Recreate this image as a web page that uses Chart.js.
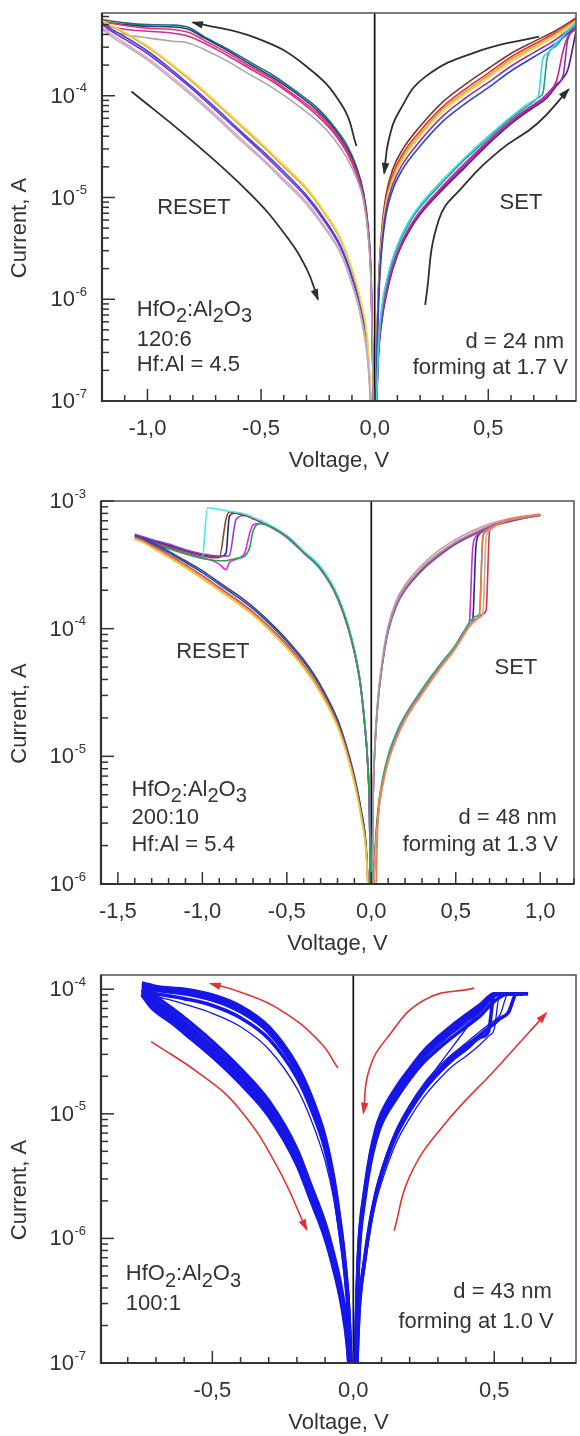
<!DOCTYPE html>
<html><head><meta charset="utf-8">
<script src="https://cdn.jsdelivr.net/npm/chart.js@4.4.1/dist/chart.umd.min.js"></script>
<style>
html,body{margin:0;padding:0;background:#fff;}
#wrap{position:relative;width:580px;height:1436px;overflow:hidden;background:#fff;}
canvas{position:absolute;left:0;}
</style></head><body>
<div id="wrap">
<canvas id="c1" width="580" height="480" style="top:0px"></canvas>
<canvas id="c2" width="580" height="480" style="top:480px"></canvas>
<canvas id="c3" width="580" height="476" style="top:960px"></canvas>
</div>
<script>
// ===================== PANEL 1 : HfO2:Al2O3 120:6 =====================
const p1XTicks = [-1.0, -0.5, 0.0, 0.5];
const p1XTickLabels = ['-1,0', '-0,5', '0,0', '0,5'];
const p1YDecades = [-7, -6, -5, -4];
const p1XRange = [-1.2, 0.886];
const p1YRange = [1e-7, 6.5e-4];

const p1ResetHighV = [-1.2, -1.1, -1.0, -0.9, -0.82, -0.75, -0.65, -0.55, -0.45, -0.35, -0.25, -0.18, -0.12, -0.08, -0.05, -0.03, -0.015, -0.005];
const p1ResetHighGreen   = [5.6e-4, 5.2e-4, 5.0e-4, 4.95e-4, 4.7e-4, 3.8e-4, 2.9e-4, 2.15e-4, 1.6e-4, 1.12e-4, 7.5e-5, 5.0e-5, 3.2e-5, 2.0e-5, 1.15e-5, 5.5e-6, 1.5e-6, 8e-8];
const p1ResetHighBlue    = [5.3e-4, 5.0e-4, 4.8e-4, 4.75e-4, 4.5e-4, 3.7e-4, 2.8e-4, 2.05e-4, 1.52e-4, 1.07e-4, 7.1e-5, 4.8e-5, 3.0e-5, 1.9e-5, 1.1e-5, 5.2e-6, 1.4e-6, 8e-8];
const p1ResetHighRed     = [5.4e-4, 4.9e-4, 4.6e-4, 4.5e-4, 4.2e-4, 3.5e-4, 2.65e-4, 1.95e-4, 1.45e-4, 1.0e-4, 6.7e-5, 4.5e-5, 2.85e-5, 1.8e-5, 1.05e-5, 5.0e-6, 1.35e-6, 8e-8];
const p1ResetHighMagenta = [5.0e-4, 4.5e-4, 4.3e-4, 4.15e-4, 3.85e-4, 3.3e-4, 2.5e-4, 1.85e-4, 1.38e-4, 9.6e-5, 6.3e-5, 4.3e-5, 2.7e-5, 1.7e-5, 1.0e-5, 4.8e-6, 1.3e-6, 8e-8];
const p1ResetHighGray    = [4.6e-4, 4.0e-4, 3.7e-4, 3.45e-4, 3.3e-4, 2.85e-4, 2.2e-4, 1.62e-4, 1.2e-4, 8.4e-5, 5.6e-5, 3.8e-5, 2.4e-5, 1.55e-5, 9.5e-6, 4.5e-6, 1.2e-6, 8e-8];

const p1ResetLowV = [-1.2, -1.15, -1.1, -1.0, -0.9, -0.8, -0.7, -0.6, -0.5, -0.4, -0.3, -0.22, -0.15, -0.1, -0.06, -0.03, -0.01];
const p1ResetLowYellow = [5.5e-4, 4.8e-4, 4.2e-4, 3.1e-4, 2.1e-4, 1.4e-4, 8.8e-5, 5.5e-5, 3.45e-5, 2.1e-5, 1.25e-5, 7.2e-6, 4.0e-6, 2.0e-6, 9.5e-7, 3.6e-7, 5e-8];
const p1ResetLowOrange = [5.4e-4, 4.7e-4, 4.1e-4, 3.0e-4, 2.05e-4, 1.35e-4, 8.5e-5, 5.3e-5, 3.3e-5, 2.0e-5, 1.2e-5, 6.9e-6, 3.8e-6, 1.9e-6, 9e-7, 3.4e-7, 5e-8];
const p1ResetLowBlue   = [5.2e-4, 4.4e-4, 3.8e-4, 2.75e-4, 1.85e-4, 1.2e-4, 7.6e-5, 4.7e-5, 2.95e-5, 1.8e-5, 1.05e-5, 6.1e-6, 3.35e-6, 1.7e-6, 8e-7, 3e-7, 5e-8];
const p1ResetLowPurple = [5.0e-4, 4.2e-4, 3.6e-4, 2.6e-4, 1.75e-4, 1.15e-4, 7.2e-5, 4.5e-5, 2.8e-5, 1.7e-5, 1.0e-5, 5.8e-6, 3.2e-6, 1.6e-6, 7.5e-7, 2.8e-7, 5e-8];
const p1ResetLowPink   = [4.7e-4, 3.9e-4, 3.3e-4, 2.35e-4, 1.58e-4, 1.03e-4, 6.5e-5, 4.0e-5, 2.5e-5, 1.52e-5, 9e-6, 5.2e-6, 2.9e-6, 1.45e-6, 6.8e-7, 2.5e-7, 5e-8];
const p1ResetLowGray   = [4.5e-4, 3.7e-4, 3.15e-4, 2.25e-4, 1.5e-4, 9.8e-5, 6.2e-5, 3.8e-5, 2.4e-5, 1.45e-5, 8.6e-6, 5e-6, 2.8e-6, 1.4e-6, 6.5e-7, 2.4e-7, 5e-8];

const p1SetLowV = [0.005, 0.015, 0.03, 0.06, 0.1, 0.15, 0.2, 0.3, 0.4, 0.5, 0.6, 0.7, 0.72, 0.74, 0.76, 0.8, 0.83, 0.85, 0.886];
const p1SetLowCyan    = [5e-8, 3e-7, 8e-7, 1.8e-6, 3.4e-6, 5.8e-6, 8.5e-6, 1.5e-5, 2.5e-5, 4.0e-5, 6.2e-5, 9.0e-5, 9.8e-5, 2.3e-4, 2.6e-4, 3.3e-4, 3.9e-4, 4.4e-4, 5.2e-4];
const p1SetLowTeal    = [5e-8, 2.8e-7, 7.5e-7, 1.7e-6, 3.2e-6, 5.5e-6, 8e-6, 1.42e-5, 2.4e-5, 3.8e-5, 6e-5, 8.8e-5, 9.6e-5, 1.05e-4, 2.4e-4, 3.1e-4, 3.8e-4, 4.3e-4, 5.1e-4];
const p1SetLowMagenta = [5e-8, 2.6e-7, 6.3e-7, 1.5e-6, 2.9e-6, 5e-6, 7.3e-6, 1.3e-5, 2.2e-5, 3.6e-5, 5.7e-5, 8.2e-5, 8.8e-5, 9.5e-5, 1.05e-4, 1.4e-4, 2.8e-4, 3.8e-4, 4.6e-4];
const p1SetLowPurple  = [5e-8, 2.5e-7, 6e-7, 1.4e-6, 2.8e-6, 4.8e-6, 7e-6, 1.25e-5, 2.1e-5, 3.5e-5, 5.5e-5, 8.0e-5, 8.5e-5, 9.2e-5, 1.0e-4, 1.3e-4, 1.6e-4, 3.6e-4, 4.5e-4];
const p1SetLowDark    = [5e-8, 2.4e-7, 5.8e-7, 1.35e-6, 2.7e-6, 4.6e-6, 6.8e-6, 1.2e-5, 2.0e-5, 3.35e-5, 5.3e-5, 7.7e-5, 8.2e-5, 8.8e-5, 9.6e-5, 1.25e-4, 1.5e-4, 1.8e-4, 4.3e-4];

const p1SetHighV = [0.005, 0.012, 0.02, 0.03, 0.05, 0.08, 0.12, 0.2, 0.3, 0.4, 0.5, 0.6, 0.7, 0.8, 0.886];
const p1SetHighBrown  = [8e-8, 6e-7, 2e-6, 4.5e-6, 1.06e-5, 1.9e-5, 2.9e-5, 5e-5, 8.7e-5, 1.3e-4, 1.85e-4, 2.6e-4, 3.4e-4, 4.4e-4, 5.8e-4];
const p1SetHighRed    = [8e-8, 5.6e-7, 1.8e-6, 4e-6, 9.5e-6, 1.68e-5, 2.6e-5, 4.5e-5, 7.8e-5, 1.17e-4, 1.67e-4, 2.4e-4, 3.2e-4, 4.2e-4, 5.6e-4];
const p1SetHighOrange = [8e-8, 5.3e-7, 1.7e-6, 3.8e-6, 9e-6, 1.58e-5, 2.42e-5, 4.2e-5, 7.4e-5, 1.1e-4, 1.58e-4, 2.27e-4, 3.05e-4, 4.1e-4, 5.5e-4];
const p1SetHighYellow = [8e-8, 5e-7, 1.6e-6, 3.6e-6, 8.5e-6, 1.5e-5, 2.3e-5, 4.0e-5, 7.0e-5, 1.05e-4, 1.5e-4, 2.15e-4, 2.9e-4, 3.9e-4, 5.4e-4];
const p1SetHighPurple = [8e-8, 4.5e-7, 1.45e-6, 3.2e-6, 7.6e-6, 1.35e-5, 2.07e-5, 3.6e-5, 6.3e-5, 9.5e-5, 1.35e-4, 1.95e-4, 2.65e-4, 3.6e-4, 5.1e-4];
const p1SetHighBlue   = [8e-8, 4e-7, 1.3e-6, 2.9e-6, 6.8e-6, 1.2e-5, 1.85e-5, 3.2e-5, 5.6e-5, 8.4e-5, 1.2e-4, 1.75e-4, 2.4e-4, 3.3e-4, 4.8e-4];

const p1ArrowResetUp   = [[-0.08, 3.2e-5], [-0.14, 7.8e-5], [-0.3, 1.94e-4], [-0.52, 3.68e-4], [-0.8, 5.25e-4]];
const p1ArrowResetDown = [[-1.07, 1.1e-4], [-0.81, 3.7e-5], [-0.55, 1.1e-5], [-0.4, 4.5e-6], [-0.3, 2.0e-6], [-0.25, 1.0e-6]];
const p1ArrowSetDown   = [[0.723, 3.8e-4], [0.47, 2.8e-4], [0.225, 1.55e-4], [0.111, 7.2e-5], [0.062, 3.7e-5], [0.042, 1.74e-5]];
const p1ArrowSetUp     = [[0.222, 8.8e-7], [0.282, 6.0e-6], [0.388, 1.28e-5], [0.551, 2.9e-5], [0.715, 5.3e-5], [0.853, 1.15e-4]];

// ===================== PANEL 2 : HfO2:Al2O3 200:10 =====================
const p2XTicks = [-1.5, -1.0, -0.5, 0.0, 0.5, 1.0];
const p2XTickLabels = ['-1,5', '-1,0', '-0,5', '0,0', '0,5', '1,0'];
const p2YDecades = [-6, -5, -4, -3];
const p2XRange = [-1.6, 1.2];
const p2YRange = [1e-6, 1e-3];

const p2ResetHighV = [-1.4, -1.3, -1.2, -1.1, -1.0, -0.97, -0.95, -0.9, -0.86, -0.84, -0.8, -0.75, -0.72, -0.7, -0.66, -0.6, -0.5, -0.4, -0.3, -0.2, -0.12, -0.07, -0.04, -0.02, -0.01, -0.003];
const p2ResetHighGreen   = [5.1e-4, 4.65e-4, 4.25e-4, 3.85e-4, 3.55e-4, 3.5e-4, 3.45e-4, 3.4e-4, 3.4e-4, 3.45e-4, 3.55e-4, 3.7e-4, 4.3e-4, 5.8e-4, 6.65e-4, 6.35e-4, 5.25e-4, 3.95e-4, 2.95e-4, 1.76e-4, 8.5e-5, 4.1e-5, 1.85e-5, 8.2e-6, 3.4e-6, 5e-7];
const p2ResetHighMagenta = [5.2e-4, 4.7e-4, 4.3e-4, 3.9e-4, 3.6e-4, 3.5e-4, 3.45e-4, 3.2e-4, 2.9e-4, 3.3e-4, 3.5e-4, 3.9e-4, 5.6e-4, 6.5e-4, 6.7e-4, 6.3e-4, 5.2e-4, 3.9e-4, 2.9e-4, 1.72e-4, 8.3e-5, 4.0e-5, 1.8e-5, 8.0e-6, 3.3e-6, 5e-7];
const p2ResetHighCyan    = [5.0e-4, 4.6e-4, 4.2e-4, 3.9e-4, 3.6e-4, 8.9e-4, 8.8e-4, 8.6e-4, 8.4e-4, 8.3e-4, 8.15e-4, 7.9e-4, 7.65e-4, 7.45e-4, 7.1e-4, 6.45e-4, 5.35e-4, 4.05e-4, 3.05e-4, 1.82e-4, 8.8e-5, 4.25e-5, 1.92e-5, 8.6e-6, 3.55e-6, 5e-7];
const p2ResetHighBrown   = [5.3e-4, 4.8e-4, 4.4e-4, 4.0e-4, 3.7e-4, 3.65e-4, 3.6e-4, 3.6e-4, 7.2e-4, 8.2e-4, 8.0e-4, 7.75e-4, 7.5e-4, 7.3e-4, 6.95e-4, 6.35e-4, 5.25e-4, 3.95e-4, 2.95e-4, 1.78e-4, 8.6e-5, 4.15e-5, 1.88e-5, 8.4e-6, 3.45e-6, 5e-7];
const p2ResetHighPurple  = [5.5e-4, 5.0e-4, 4.6e-4, 4.15e-4, 3.85e-4, 3.8e-4, 3.75e-4, 3.7e-4, 3.7e-4, 3.75e-4, 7.2e-4, 7.7e-4, 7.45e-4, 7.25e-4, 6.9e-4, 6.3e-4, 5.2e-4, 3.92e-4, 2.92e-4, 1.75e-4, 8.5e-5, 4.1e-5, 1.85e-5, 8.2e-6, 3.4e-6, 5e-7];
const p2ResetHighNavy    = [5.4e-4, 4.9e-4, 4.5e-4, 4.1e-4, 3.8e-4, 3.75e-4, 3.7e-4, 3.65e-4, 3.9e-4, 7.6e-4, 8.1e-4, 7.8e-4, 7.55e-4, 7.35e-4, 7.0e-4, 6.4e-4, 5.3e-4, 4.0e-4, 3.0e-4, 1.8e-4, 8.7e-5, 4.2e-5, 1.9e-5, 8.5e-6, 3.5e-6, 5e-7];

const p2ResetLowV = [-1.4, -1.35, -1.3, -1.2, -1.1, -1.0, -0.9, -0.8, -0.7, -0.6, -0.5, -0.4, -0.3, -0.2, -0.15, -0.1, -0.06, -0.03, -0.01];
const p2ResetLowBlue    = [5.4e-4, 5.1e-4, 4.75e-4, 4.05e-4, 3.4e-4, 2.85e-4, 2.3e-4, 1.87e-4, 1.48e-4, 1.12e-4, 8.2e-5, 5.7e-5, 3.6e-5, 1.95e-5, 1.24e-5, 7e-6, 3.8e-6, 1.95e-6, 5e-7];
const p2ResetLowGreen   = [5.3e-4, 5.0e-4, 4.65e-4, 3.95e-4, 3.3e-4, 2.75e-4, 2.22e-4, 1.8e-4, 1.43e-4, 1.08e-4, 7.9e-5, 5.5e-5, 3.5e-5, 1.9e-5, 1.2e-5, 6.8e-6, 3.7e-6, 1.9e-6, 5e-7];
const p2ResetLowMagenta = [5.2e-4, 4.9e-4, 4.5e-4, 3.8e-4, 3.15e-4, 2.6e-4, 2.1e-4, 1.7e-4, 1.35e-4, 1.02e-4, 7.5e-5, 5.2e-5, 3.3e-5, 1.8e-5, 1.15e-5, 6.5e-6, 3.5e-6, 1.8e-6, 5e-7];
const p2ResetLowOrange  = [5.1e-4, 4.8e-4, 4.4e-4, 3.7e-4, 3.08e-4, 2.52e-4, 2.04e-4, 1.65e-4, 1.31e-4, 9.9e-5, 7.25e-5, 5.05e-5, 3.2e-5, 1.75e-5, 1.12e-5, 6.3e-6, 3.4e-6, 1.75e-6, 5e-7];
const p2ResetLowYellow  = [5.0e-4, 4.7e-4, 4.3e-4, 3.6e-4, 3.0e-4, 2.45e-4, 1.98e-4, 1.6e-4, 1.27e-4, 9.6e-5, 7.0e-5, 4.9e-5, 3.1e-5, 1.7e-5, 1.08e-5, 6.1e-6, 3.3e-6, 1.7e-6, 5e-7];

const p2SetLowV = [0.005, 0.02, 0.04, 0.07, 0.1, 0.15, 0.2, 0.3, 0.4, 0.5, 0.55, 0.58, 0.6, 0.62, 0.64, 0.66, 0.68, 0.7, 0.75, 0.8, 0.9, 1.0];
const p2SetLowTeal    = [5e-7, 1.7e-6, 3.9e-6, 7e-6, 1.02e-5, 1.55e-5, 2.1e-5, 3.35e-5, 5.1e-5, 7.5e-5, 9.6e-5, 1.12e-4, 1.2e-4, 1.25e-4, 1.3e-4, 5.0e-4, 5.8e-4, 6.1e-4, 6.6e-4, 7.0e-4, 7.5e-4, 7.8e-4];
const p2SetLowNavy    = [5e-7, 1.5e-6, 3.5e-6, 6.5e-6, 9.5e-6, 1.45e-5, 2.0e-5, 3.2e-5, 4.9e-5, 7.3e-5, 9.3e-5, 1.08e-4, 1.15e-4, 4.5e-4, 5.5e-4, 5.8e-4, 6.0e-4, 6.2e-4, 6.6e-4, 7.0e-4, 7.5e-4, 7.8e-4];
const p2SetLowMagenta = [5e-7, 1.5e-6, 3.6e-6, 6.6e-6, 9.6e-6, 1.47e-5, 2.02e-5, 3.2e-5, 4.95e-5, 7.4e-5, 9.5e-5, 1.1e-4, 4.2e-4, 5.3e-4, 5.6e-4, 5.8e-4, 6.0e-4, 6.2e-4, 6.6e-4, 7.0e-4, 7.5e-4, 7.8e-4];
const p2SetLowRed     = [5e-7, 1.45e-6, 3.4e-6, 6.3e-6, 9.2e-6, 1.4e-5, 1.95e-5, 3.1e-5, 4.8e-5, 7.1e-5, 9.1e-5, 1.05e-4, 1.12e-4, 1.18e-4, 1.25e-4, 1.3e-4, 1.4e-4, 5.8e-4, 6.6e-4, 7.0e-4, 7.5e-4, 7.8e-4];
const p2SetLowPink    = [5e-7, 1.4e-6, 3.3e-6, 6.1e-6, 9e-6, 1.38e-5, 1.9e-5, 3.05e-5, 4.7e-5, 7.0e-5, 9.0e-5, 1.03e-4, 1.1e-4, 1.16e-4, 1.22e-4, 1.28e-4, 5.2e-4, 5.9e-4, 6.5e-4, 7.0e-4, 7.5e-4, 7.8e-4];
const p2SetLowOrange  = [2e-7, 4e-7, 3.3e-6, 6.3e-6, 9.3e-6, 1.42e-5, 1.97e-5, 3.15e-5, 4.85e-5, 7.2e-5, 9.2e-5, 1.06e-4, 1.14e-4, 1.2e-4, 1.26e-4, 5.3e-4, 5.9e-4, 6.1e-4, 6.6e-4, 7.0e-4, 7.5e-4, 7.8e-4];

const p2SetHighV = [0.003, 0.01, 0.02, 0.04, 0.07, 0.1, 0.15, 0.2, 0.3, 0.4, 0.5, 0.6, 0.7, 0.8, 0.9, 1.0];
const p2SetHighPink   = [5e-7, 4.2e-6, 1.16e-5, 2.95e-5, 6.3e-5, 1.05e-4, 1.68e-4, 2.2e-4, 3.15e-4, 4.1e-4, 5.0e-4, 5.85e-4, 6.6e-4, 7.2e-4, 7.6e-4, 7.9e-4];
const p2SetHighGray   = [5e-7, 4e-6, 1.1e-5, 2.8e-5, 6.0e-5, 1.0e-4, 1.6e-4, 2.1e-4, 3.0e-4, 3.9e-4, 4.8e-4, 5.6e-4, 6.4e-4, 7.0e-4, 7.4e-4, 7.8e-4];
const p2SetHighNavy   = [5e-7, 3.9e-6, 1.08e-5, 2.72e-5, 5.85e-5, 9.7e-5, 1.56e-4, 2.05e-4, 2.92e-4, 3.8e-4, 4.7e-4, 5.5e-4, 6.3e-4, 6.9e-4, 7.35e-4, 7.75e-4];
const p2SetHighPurple = [5e-7, 3.8e-6, 1.05e-5, 2.65e-5, 5.7e-5, 9.5e-5, 1.52e-4, 2.0e-4, 2.85e-4, 3.7e-4, 4.6e-4, 5.4e-4, 6.2e-4, 6.8e-4, 7.3e-4, 7.7e-4];

// ===================== PANEL 3 : HfO2:Al2O3 100:1 =====================
const p3XTicks = [-0.5, 0.0, 0.5];
const p3XTickLabels = ['-0,5', '0,0', '0,5'];
const p3YDecades = [-7, -6, -5, -4];
const p3XRange = [-0.895, 0.79];
const p3YRange = [1e-7, 1.3e-4];

const p3ResetHighV = [-0.75, -0.72, -0.7, -0.65, -0.6, -0.5, -0.4, -0.3, -0.2, -0.15, -0.1, -0.07, -0.05, -0.03, -0.015, -0.005];
const p3ResetHighA = [1.05e-4, 1.0e-4, 9.8e-5, 9.5e-5, 9.2e-5, 8.2e-5, 6.6e-5, 4.5e-5, 2.2e-5, 1.25e-5, 5.8e-6, 2.8e-6, 1.4e-6, 6e-7, 2.2e-7, 5e-8];
const p3ResetHighB = [1.12e-4, 1.08e-4, 1.05e-4, 1.02e-4, 1.0e-4, 9.0e-5, 7.3e-5, 5.0e-5, 2.45e-5, 1.4e-5, 6.5e-6, 3.1e-6, 1.55e-6, 6.6e-7, 2.4e-7, 5e-8];
const p3ResetHighC = [1.0e-4, 9.5e-5, 9.2e-5, 8.8e-5, 8.4e-5, 7.4e-5, 5.9e-5, 4.0e-5, 1.95e-5, 1.1e-5, 5.2e-6, 2.5e-6, 1.25e-6, 5.4e-7, 2e-7, 5e-8];
const p3ResetHighD = [1.08e-4, 1.04e-4, 1.01e-4, 9.8e-5, 9.6e-5, 8.6e-5, 6.9e-5, 4.75e-5, 2.3e-5, 1.32e-5, 6.1e-6, 2.95e-6, 1.48e-6, 6.3e-7, 2.3e-7, 5e-8];
const p3ResetHighE = [1.0e-4, 9.2e-5, 8.8e-5, 8.2e-5, 7.6e-5, 6.4e-5, 5.0e-5, 3.3e-5, 1.6e-5, 9e-6, 4.2e-6, 2.1e-6, 1.05e-6, 4.6e-7, 1.8e-7, 5e-8];

const p3ResetLowV = [-0.75, -0.72, -0.7, -0.65, -0.6, -0.5, -0.4, -0.3, -0.2, -0.15, -0.1, -0.07, -0.04, -0.02, -0.008];
const p3ResetLowA = [9.5e-5, 8.3e-5, 7.6e-5, 6.3e-5, 5.1e-5, 3.3e-5, 2.0e-5, 1.1e-5, 4.5e-6, 2.3e-6, 1.15e-6, 6.5e-7, 3.2e-7, 1.5e-7, 5e-8];
const p3ResetLowB = [1.0e-4, 9.4e-5, 8.7e-5, 7.2e-5, 5.9e-5, 3.8e-5, 2.3e-5, 1.27e-5, 5.2e-6, 2.65e-6, 1.32e-6, 7.5e-7, 3.7e-7, 1.7e-7, 5e-8];
const p3ResetLowC = [9.0e-5, 7.3e-5, 6.6e-5, 5.5e-5, 4.45e-5, 2.87e-5, 1.74e-5, 9.6e-6, 3.9e-6, 2.0e-6, 1.0e-6, 5.7e-7, 2.8e-7, 1.3e-7, 5e-8];
const p3ResetLowD = [9.8e-5, 8.9e-5, 8.1e-5, 6.7e-5, 5.45e-5, 3.5e-5, 2.14e-5, 1.18e-5, 4.8e-6, 2.46e-6, 1.23e-6, 7e-7, 3.4e-7, 1.6e-7, 5e-8];
const p3ResetLowE = [9.2e-5, 7.8e-5, 7.1e-5, 5.9e-5, 4.75e-5, 3.07e-5, 1.86e-5, 1.02e-5, 4.2e-6, 2.15e-6, 1.07e-6, 6e-7, 3e-7, 1.4e-7, 5e-8];

const p3SetLowV = [0.008, 0.02, 0.04, 0.06, 0.08, 0.1, 0.15, 0.2, 0.25, 0.3, 0.35, 0.4, 0.45, 0.48, 0.5, 0.52, 0.55, 0.58, 0.6, 0.62];
const p3SetLowA = [5e-8, 2.5e-7, 6.5e-7, 1.3e-6, 2.2e-6, 3.2e-6, 6.5e-6, 1.05e-5, 1.55e-5, 2.1e-5, 2.7e-5, 3.3e-5, 4.1e-5, 4.6e-5, 9.2e-5, 9.2e-5, 9.2e-5, 9.2e-5, 9.2e-5, 9.2e-5];
const p3SetLowB = [5e-8, 2.8e-7, 7.3e-7, 1.45e-6, 2.45e-6, 3.6e-6, 7.3e-6, 1.18e-5, 1.74e-5, 2.35e-5, 3.0e-5, 3.7e-5, 4.6e-5, 5.2e-5, 5.6e-5, 6.2e-5, 9.2e-5, 9.2e-5, 9.2e-5, null];
const p3SetLowC = [5e-8, 2.2e-7, 5.7e-7, 1.15e-6, 1.95e-6, 2.8e-6, 5.7e-6, 9.2e-6, 1.36e-5, 1.85e-5, 2.4e-5, 2.9e-5, 3.6e-5, 4.2e-5, 4.8e-5, 9.2e-5, 9.2e-5, 9.2e-5, 9.2e-5, null];
const p3SetLowD = [5e-8, 2.6e-7, 6.8e-7, 1.35e-6, 2.3e-6, 3.3e-6, 6.8e-6, 1.1e-5, 1.65e-5, 2.4e-5, 3.4e-5, 4.8e-5, 6.8e-5, 8.6e-5, 9.2e-5, 9.2e-5, 9.2e-5, 9.2e-5, 9.2e-5, null];
const p3SetLowE = [5e-8, 2.6e-7, 6.8e-7, 1.37e-6, 2.3e-6, 3.35e-6, 6.8e-6, 1.1e-5, 1.63e-5, 2.2e-5, 2.85e-5, 3.5e-5, 4.3e-5, 4.9e-5, 5.3e-5, 5.8e-5, 6.5e-5, 9.2e-5, 9.2e-5, 9.2e-5];

const p3SetHighV = [0.005, 0.012, 0.02, 0.04, 0.06, 0.08, 0.1, 0.15, 0.2, 0.25, 0.3, 0.35, 0.4, 0.45, 0.5, 0.55, 0.6];
const p3SetHighA = [5e-8, 2.5e-7, 8e-7, 2.2e-6, 4.3e-6, 6.8e-6, 9.2e-6, 1.45e-5, 2.1e-5, 2.9e-5, 3.7e-5, 4.6e-5, 5.6e-5, 6.8e-5, 9.0e-5, 9.2e-5, 9.2e-5];
const p3SetHighB = [5e-8, 2.8e-7, 8.8e-7, 2.4e-6, 4.7e-6, 7.5e-6, 1.01e-5, 1.6e-5, 2.3e-5, 3.2e-5, 4.1e-5, 5.1e-5, 6.2e-5, 7.5e-5, 9.2e-5, 9.2e-5, 9.2e-5];
const p3SetHighC = [5e-8, 2.2e-7, 7.2e-7, 2.0e-6, 3.9e-6, 6.1e-6, 8.3e-6, 1.3e-5, 1.9e-5, 2.6e-5, 3.3e-5, 4.1e-5, 5.0e-5, 6.1e-5, 8.0e-5, 9.2e-5, 9.2e-5];
const p3SetHighD = [5e-8, 2.6e-7, 8.4e-7, 2.3e-6, 4.5e-6, 7.1e-6, 9.7e-6, 1.52e-5, 2.2e-5, 3.05e-5, 3.9e-5, 4.8e-5, 5.9e-5, 7.1e-5, 9.2e-5, 9.2e-5, 9.2e-5];
const p3SetHighE = [5e-8, 2.4e-7, 7.6e-7, 2.1e-6, 4.1e-6, 6.5e-6, 8.7e-6, 1.38e-5, 2.0e-5, 2.75e-5, 3.5e-5, 4.4e-5, 5.3e-5, 6.5e-5, 8.6e-5, 9.2e-5, 9.2e-5];

const p3ArrowResetUp   = [[-0.055, 2.33e-5], [-0.115, 3.7e-5], [-0.258, 6.8e-5], [-0.402, 9.5e-5], [-0.506, 1.11e-4]];
const p3ArrowResetDown = [[-0.717, 3.8e-5], [-0.532, 2.0e-5], [-0.402, 1.08e-5], [-0.271, 3.8e-6], [-0.166, 1.18e-6]];
const p3ArrowSetDown   = [[0.429, 1.02e-4], [0.252, 8.2e-5], [0.121, 4.1e-5], [0.056, 2.25e-5], [0.036, 1.02e-5]];
const p3ArrowSetUp     = [[0.145, 1.15e-6], [0.2, 3.15e-6], [0.317, 7.9e-6], [0.514, 2.4e-5], [0.684, 6.4e-5]];

// ===================== configuration / styling =====================
const FONT = '"Liberation Sans", Arial, Helvetica, sans-serif';
const TXT = '#333333';
const BLUE3 = '#1616e8';
const HFO = [['HfO',0],['2',1],[':Al',0],['2',1],['O',0],['3',1]];

const PANELS = {
  c1: {
    xRange: p1XRange, yRange: p1YRange, padTop: 13, padRight: 4, axisW: 102, axisH: 79,
    xTicks: p1XTicks, xTickLabels: p1XTickLabels, yDecades: p1YDecades,
    lineWidth: 1.6, arrowColor: '#2e2e2e', arrowWidth: 1.8,
    branches: [
      { v: p1ResetLowV, curves: [[p1ResetLowGray,'#b4b4b4'],[p1ResetLowPink,'#e6a0d8'],[p1ResetLowYellow,'#f2d84a'],[p1ResetLowOrange,'#eaa43a'],[p1ResetLowBlue,'#3a48d8'],[p1ResetLowPurple,'#7a2ed0']] },
      { v: p1ResetHighV, curves: [[p1ResetHighGray,'#a8a8a8'],[p1ResetHighMagenta,'#d42c9c'],[p1ResetHighRed,'#e23a50'],[p1ResetHighBlue,'#2438a8'],[p1ResetHighGreen,'#1f7258']] },
      { v: p1SetLowV, curves: [[p1SetLowCyan,'#38d6e6'],[p1SetLowTeal,'#20a08a'],[p1SetLowMagenta,'#c8249a'],[p1SetLowPurple,'#8a2eb0'],[p1SetLowDark,'#5a1a86']] },
      { v: p1SetHighV, curves: [[p1SetHighBlue,'#2a46c8'],[p1SetHighPurple,'#8a34b8'],[p1SetHighYellow,'#ecd23c'],[p1SetHighOrange,'#eb9a34'],[p1SetHighRed,'#d8343c'],[p1SetHighBrown,'#7c3a2a']] }
    ],
    arrows: [p1ArrowResetUp, p1ArrowResetDown, p1ArrowSetDown, p1ArrowSetUp],
    notes: [
      { parts: [['RESET',0]], v: -0.796, i: 7.9e-6, align: 'center' },
      { parts: [['SET',0]], v: 0.644, i: 8.85e-6, align: 'center' },
      { parts: HFO, v: -1.047, i: 7.85e-7, align: 'left' },
      { parts: [['120:6',0]], v: -1.047, i: 4.0e-7, align: 'left' },
      { parts: [['Hf:Al = 4.5',0]], v: -1.047, i: 2.26e-7, align: 'left' },
      { parts: [['d = 24 nm',0]], v: 0.833, i: 3.8e-7, align: 'right' },
      { parts: [['forming at 1.7 V',0]], v: 0.851, i: 2.1e-7, align: 'right' }
    ]
  },
  c2: {
    xRange: p2XRange, yRange: p2YRange, padTop: 21, padRight: 6, axisW: 101, axisH: 76,
    xTicks: p2XTicks, xTickLabels: p2XTickLabels, yDecades: p2YDecades,
    lineWidth: 1.6, arrowColor: '#2e2e2e', arrowWidth: 1.8,
    branches: [
      { v: p2ResetLowV, curves: [[p2ResetLowYellow,'#e8d040'],[p2ResetLowOrange,'#ec9a3a'],[p2ResetLowMagenta,'#d830b0'],[p2ResetLowGreen,'#1e6a44'],[p2ResetLowBlue,'#4a34c8']] },
      { v: p2ResetHighV, curves: [[p2ResetHighGreen,'#2aa050'],[p2ResetHighMagenta,'#e02ae0'],[p2ResetHighCyan,'#48e4e8'],[p2ResetHighBrown,'#8a4a2a'],[p2ResetHighPurple,'#8a40d0'],[p2ResetHighNavy,'#22229a']] },
      { v: p2SetLowV, curves: [[p2SetLowOrange,'#f08030'],[p2SetLowPink,'#d8a0b0'],[p2SetLowRed,'#d83838'],[p2SetLowTeal,'#20a8a0'],[p2SetLowMagenta,'#c830c8'],[p2SetLowNavy,'#26268c']] },
      { v: p2SetHighV, curves: [[p2SetHighGray,'#9a9a9a'],[p2SetHighPink,'#d890a8'],[p2SetHighPurple,'#9444a8'],[p2SetHighNavy,'#7a6a8a']] }
    ],
    arrows: [],
    notes: [
      { parts: [['RESET',0]], v: -0.938, i: 6.58e-5, align: 'center' },
      { parts: [['SET',0]], v: 0.856, i: 4.92e-5, align: 'center' },
      { parts: HFO, v: -1.419, i: 5.46e-6, align: 'left' },
      { parts: [['200:10',0]], v: -1.419, i: 3.3e-6, align: 'left' },
      { parts: [['Hf:Al = 5.4',0]], v: -1.419, i: 2.02e-6, align: 'left' },
      { parts: [['d = 48 nm',0]], v: 1.099, i: 3.3e-6, align: 'right' },
      { parts: [['forming at 1.3 V',0]], v: 1.105, i: 2.02e-6, align: 'right' }
    ]
  },
  c3: {
    xRange: p3XRange, yRange: p3YRange, padTop: 15, padRight: 4, axisW: 101, axisH: 73,
    xTicks: p3XTicks, xTickLabels: p3XTickLabels, yDecades: p3YDecades,
    lineWidth: 3.6, arrowColor: '#e03434', arrowWidth: 1.6,
    branches: [
      { v: p3ResetHighV, curves: [[p3ResetHighA,BLUE3],[p3ResetHighB,BLUE3],[p3ResetHighC,BLUE3],[p3ResetHighD,BLUE3],[p3ResetHighE,BLUE3,1.3]] },
      { v: p3ResetLowV, curves: [[p3ResetLowA,BLUE3],[p3ResetLowB,BLUE3],[p3ResetLowC,BLUE3],[p3ResetLowD,BLUE3],[p3ResetLowE,BLUE3]] },
      { v: p3SetLowV, curves: [[p3SetLowA,BLUE3],[p3SetLowB,BLUE3,1.3],[p3SetLowC,BLUE3,1.3],[p3SetLowD,BLUE3,1.3],[p3SetLowE,BLUE3]] },
      { v: p3SetHighV, curves: [[p3SetHighA,BLUE3],[p3SetHighB,BLUE3],[p3SetHighC,BLUE3],[p3SetHighD,BLUE3],[p3SetHighE,BLUE3,1.3]] }
    ],
    arrows: [p3ArrowResetUp, p3ArrowResetDown, p3ArrowSetDown, p3ArrowSetUp],
    notes: [
      { parts: HFO, v: -0.807, i: 5.15e-7, align: 'left' },
      { parts: [['100:1',0]], v: -0.807, i: 2.96e-7, align: 'left' },
      { parts: [['d = 43 nm',0]], v: 0.704, i: 3.7e-7, align: 'right' },
      { parts: [['forming at 1.0 V',0]], v: 0.711, i: 2.13e-7, align: 'right' }
    ]
  }
};

// ===================== drawing helpers =====================
function line(ctx, x1, y1, x2, y2) { ctx.beginPath(); ctx.moveTo(x1, y1); ctx.lineTo(x2, y2); ctx.stroke(); }

function drawParts(ctx, parts, x, y, align) {
  const mainF = '22px ' + FONT, subF = '20px ' + FONT;
  let w = 0;
  parts.forEach(p => { ctx.font = p[1] ? subF : mainF; w += ctx.measureText(p[0]).width; });
  let cx = align === 'left' ? x : (align === 'right' ? x - w : x - w / 2);
  ctx.textAlign = 'left'; ctx.textBaseline = 'middle'; ctx.fillStyle = TXT;
  parts.forEach(p => {
    ctx.font = p[1] ? subF : mainF;
    ctx.fillText(p[0], cx, y + (p[1] ? 7 : 0));
    cx += ctx.measureText(p[0]).width;
  });
}

const deco = {
  id: 'deco',
  beforeDatasetsDraw(chart) {
    const { ctx, chartArea: a } = chart;
    const x0 = chart.scales.x.getPixelForValue(0);
    ctx.save(); ctx.strokeStyle = '#111'; ctx.lineWidth = 1.7; line(ctx, x0, a.top, x0, a.bottom); ctx.restore();
  },
  afterDatasetsDraw(chart) {
    const cfg = PANELS[chart.canvas.id];
    const { ctx } = chart;
    ctx.save();
    chart.data.datasets.forEach((ds, di) => {
      if (!ds.isArrow) return;
      const pts = chart.getDatasetMeta(di).data;
      const last = pts[pts.length - 1];
      let px = last.cp1x, py = last.cp1y;
      if (px === undefined || (Math.abs(px - last.x) < 0.5 && Math.abs(py - last.y) < 0.5)) { px = pts[pts.length - 2].x; py = pts[pts.length - 2].y; }
      let dx = last.x - px, dy = last.y - py; const L = Math.hypot(dx, dy) || 1; dx /= L; dy /= L;
      const len = 10, hw = 3.8;
      ctx.fillStyle = cfg.arrowColor;
      ctx.beginPath();
      ctx.moveTo(last.x + dx * 2, last.y + dy * 2);
      ctx.lineTo(last.x - dx * len - dy * hw, last.y - dy * len + dx * hw);
      ctx.lineTo(last.x - dx * len + dy * hw, last.y - dy * len - dx * hw);
      ctx.closePath(); ctx.fill();
    });
    ctx.restore();
  },
  afterDraw(chart) {
    const cfg = PANELS[chart.canvas.id];
    const { ctx, chartArea: a } = chart;
    const xs = chart.scales.x, ys = chart.scales.y;
    ctx.save();
    // frame
    ctx.strokeStyle = '#5a5a5a'; ctx.lineWidth = 1.6;
    ctx.strokeRect(a.left, a.top, a.right - a.left, a.bottom - a.top);
    ctx.strokeStyle = '#333'; ctx.lineWidth = 2.2;
    line(ctx, a.left, a.top, a.left, a.bottom + 1); line(ctx, a.left - 1, a.bottom, a.right, a.bottom);
    // x ticks (inward)
    ctx.lineWidth = 1.5; ctx.strokeStyle = '#333';
    for (let k = Math.ceil(cfg.xRange[0] * 10 - 1e-6); k <= Math.floor(cfg.xRange[1] * 10 + 1e-6); k++) {
      const v = k / 10; const px = xs.getPixelForValue(v);
      const major = cfg.xTicks.some(t => Math.abs(t - v) < 1e-6);
      line(ctx, px, a.bottom, px, a.bottom - (major ? 12 : 6));
    }
    // y ticks (inward, log minors)
    const lo = Math.floor(Math.log10(cfg.yRange[0]) + 1e-9), hi = Math.ceil(Math.log10(cfg.yRange[1]));
    for (let d = lo; d <= hi; d++) {
      for (let m = 1; m <= 9; m++) {
        const v = m * Math.pow(10, d);
        if (v < cfg.yRange[0] * 0.999 || v > cfg.yRange[1] * 1.001) continue;
        const py = ys.getPixelForValue(v);
        line(ctx, a.left, py, a.left + (m === 1 ? 13 : 7), py);
      }
    }
    // x tick labels
    ctx.fillStyle = TXT; ctx.font = '22px ' + FONT; ctx.textAlign = 'center'; ctx.textBaseline = 'middle';
    cfg.xTicks.forEach((t, i) => ctx.fillText(cfg.xTickLabels[i], xs.getPixelForValue(t), a.bottom + 28));
    // y tick labels 10^n
    cfg.yDecades.forEach(e => {
      const py = ys.getPixelForValue(Math.pow(10, e));
      const sup = String(e);
      ctx.font = '13px ' + FONT; const ws = ctx.measureText(sup).width;
      const right = a.left - 15;
      ctx.textAlign = 'right'; ctx.textBaseline = 'middle';
      ctx.fillText(sup, right, py - 7);
      ctx.font = '22px ' + FONT;
      ctx.fillText('10', right - ws - 0.5, py + 1);
    });
    // axis titles
    ctx.font = '22px ' + FONT; ctx.textAlign = 'center'; ctx.textBaseline = 'middle';
    ctx.fillText('Voltage, V', (a.left + a.right) / 2, a.bottom + 60);
    ctx.save(); ctx.translate(20, (a.top + a.bottom) / 2 + 21); ctx.rotate(-Math.PI / 2);
    ctx.fillText('Current, A', 0, 0); ctx.restore();
    // annotations
    cfg.notes.forEach(n => drawParts(ctx, n.parts, xs.getPixelForValue(n.v), ys.getPixelForValue(n.i), n.align));
    ctx.restore();
  }
};

function build(id) {
  const cfg = PANELS[id];
  const datasets = [];
  cfg.branches.forEach(br => {
    br.curves.forEach(c => {
      datasets.push({
        data: br.v.map((v, k) => ({ x: v, y: c[0][k] })),
        borderColor: c[1], borderWidth: c[2] || cfg.lineWidth,
        pointRadius: 0, fill: false, cubicInterpolationMode: 'monotone', spanGaps: false
      });
    });
  });
  cfg.arrows.forEach(ar => {
    datasets.push({
      data: ar.map(p => ({ x: p[0], y: p[1] })), borderColor: cfg.arrowColor, borderWidth: cfg.arrowWidth,
      pointRadius: 0, fill: false, tension: 0.45, isArrow: true
    });
  });
  new Chart(document.getElementById(id), {
    type: 'line',
    data: { datasets },
    plugins: [deco],
    options: {
      responsive: false, animation: false, devicePixelRatio: 1,
      layout: { padding: { top: cfg.padTop, right: cfg.padRight, left: 0, bottom: 0 } },
      plugins: { legend: { display: false }, tooltip: { enabled: false } },
      scales: {
        x: { type: 'linear', min: cfg.xRange[0], max: cfg.xRange[1], bounds: 'data',
             ticks: { display: false }, grid: { display: false, drawTicks: false }, border: { display: false },
             afterFit: s => { s.height = cfg.axisH; } },
        y: { type: 'logarithmic', min: cfg.yRange[0], max: cfg.yRange[1],
             ticks: { display: false }, grid: { display: false, drawTicks: false }, border: { display: false },
             afterFit: s => { s.width = cfg.axisW; } }
      }
    }
  });
}
build('c1'); build('c2'); build('c3');
</script>
</body></html>
